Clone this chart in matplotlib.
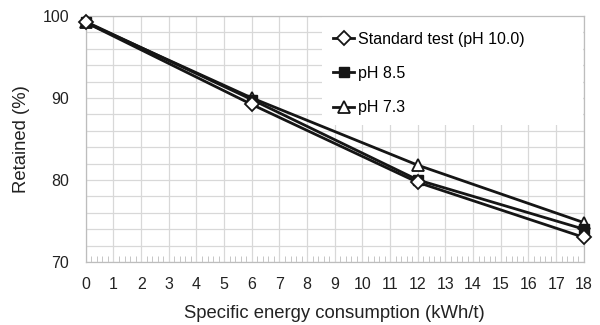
import matplotlib.pyplot as plt
from matplotlib.patches import Rectangle
import numpy as np

plt.rcParams['font.family'] = ['Liberation Sans', 'DejaVu Sans']

energy = [0, 6, 12, 18]
standard = [99.2, 89.2, 79.7, 73.0]
ph85 = [99.3, 89.8, 80.0, 74.0]
ph73 = [99.2, 90.0, 81.8, 74.8]

labels = ['Standard test (pH 10.0)', 'pH 8.5', 'pH 7.3']

fig = plt.figure(figsize=(6, 3.25), dpi=100)
ax = fig.add_axes([0.143, 0.194, 0.83, 0.757])

col = '#151515'
ax.plot(energy, ph73, color=col, linewidth=2, marker='^', markersize=9,
        markerfacecolor='white', markeredgecolor=col, markeredgewidth=1.3,
        label=labels[2], zorder=3, clip_on=False)
ax.plot(energy, ph85, color=col, linewidth=2, marker='s', markersize=7,
        markerfacecolor=col, markeredgecolor=col, label=labels[1], zorder=3, clip_on=False)
ax.plot(energy, standard, color=col, linewidth=2, marker='D', markersize=7,
        markerfacecolor='white', markeredgecolor=col, markeredgewidth=1.3,
        label=labels[0], zorder=3, clip_on=False)

ax.set_xlim(0, 18)
ax.set_ylim(70, 100)
ax.set_xticks(np.arange(0, 19, 1))
ax.set_xticks(np.arange(0, 18.01, 0.2), minor=True)
ax.set_yticks([70, 80, 90, 100])
ax.set_yticks(np.arange(70, 101, 2), minor=True)
ax.grid(True, which='major', axis='x', color='#d8d8d8', linewidth=0.9)
ax.grid(True, which='both', axis='y', color='#d8d8d8', linewidth=0.9)
ax.set_axisbelow(True)

for s in ax.spines.values():
    s.set_color('#bdbdbd')
    s.set_linewidth(0.9)

ax.tick_params(axis='x', which='major', length=0, labelsize=11.5, pad=11, colors='#222222')
ax.tick_params(axis='x', which='minor', length=4, color='#bdbdbd', direction='in')
ax.tick_params(axis='y', which='both', length=0, labelsize=11.5, pad=12, colors='#222222')

ax.set_xlabel('Specific energy consumption (kWh/t)', fontsize=13.3, labelpad=9, color='#222222')
ax.set_ylabel('Retained (%)', fontsize=13.3, labelpad=9, color='#222222')

# white box behind the legend
ax.add_patch(Rectangle((0.474, 0.557), 0.524, 0.44, transform=ax.transAxes,
                       facecolor='white', edgecolor='none', zorder=2))

h, l = ax.get_legend_handles_labels()
leg = ax.legend(h[::-1], l[::-1], loc='upper left', bbox_to_anchor=(0.496, 0.935),
                frameon=False, fontsize=11.5, handlelength=1.35, handletextpad=0.2,
                labelspacing=1.2, borderpad=0.0, borderaxespad=0.0)
leg.set_zorder(4)

fig.savefig('out.png', dpi=100)
